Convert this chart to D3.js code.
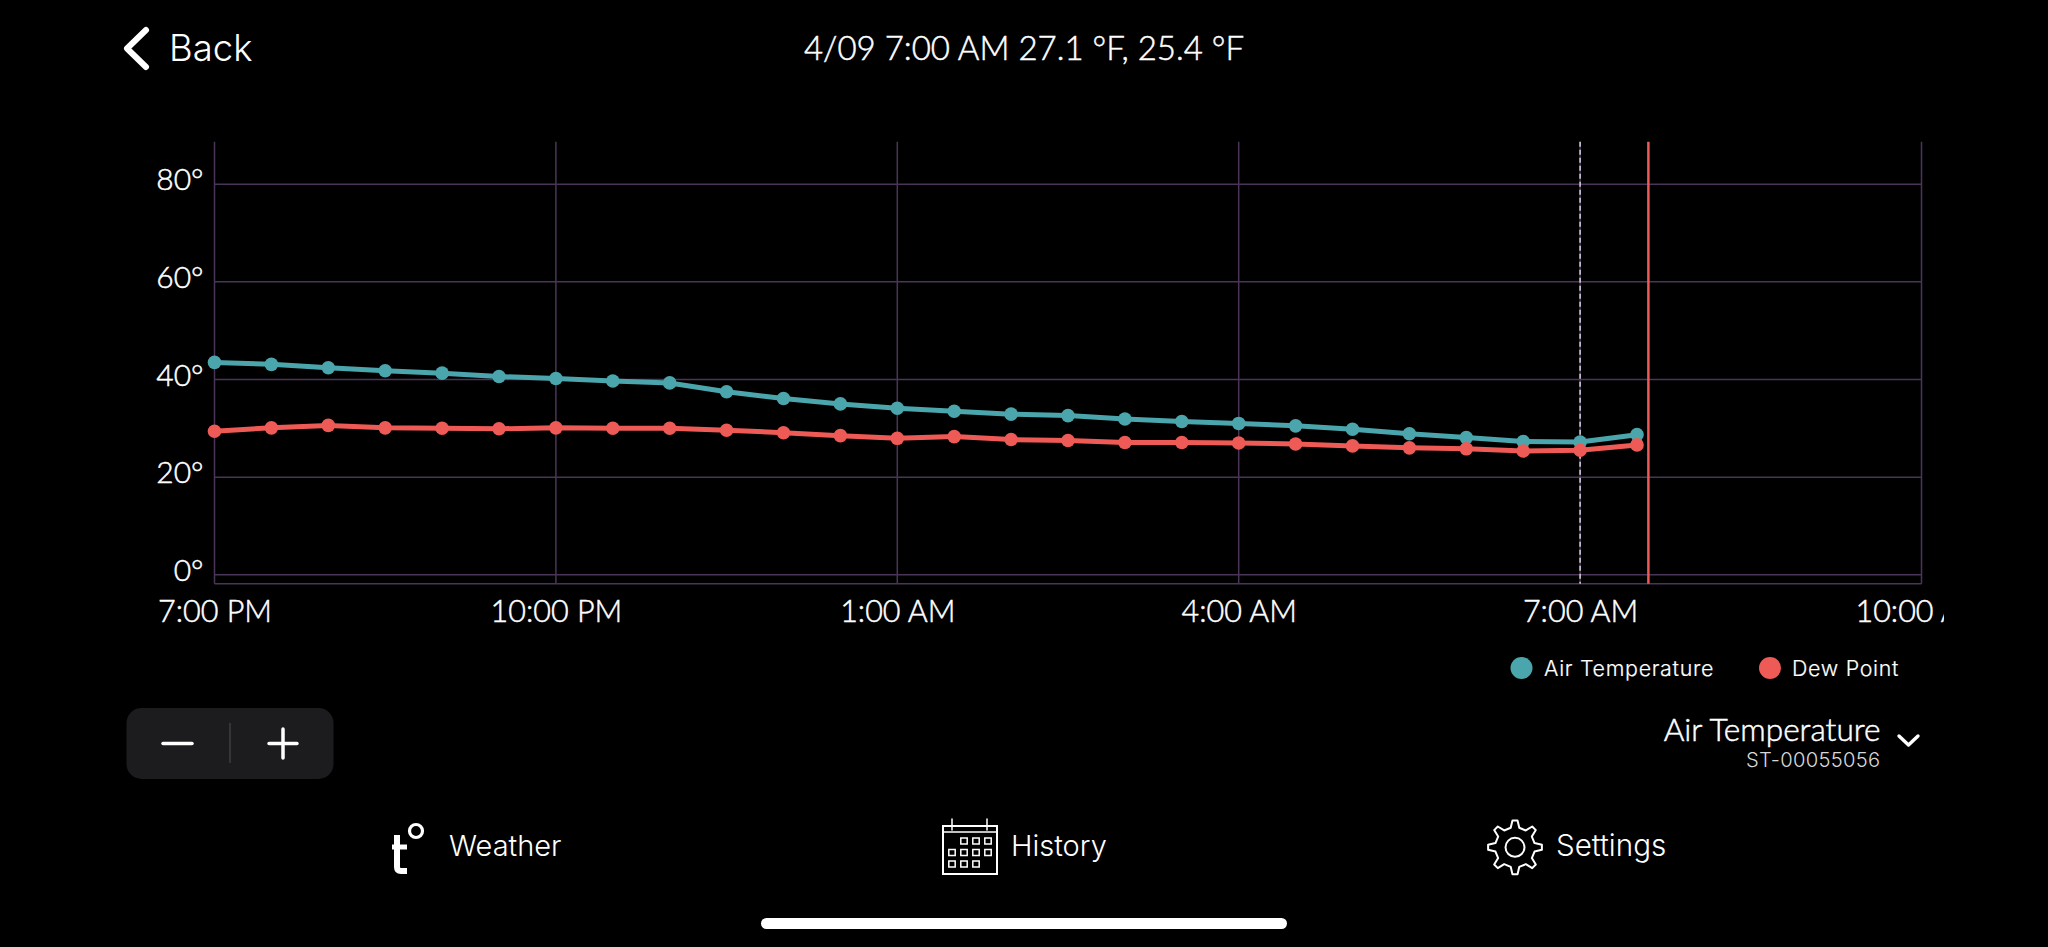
<!DOCTYPE html>
<html><head><meta charset="utf-8">
<script src="https://cdn.jsdelivr.net/npm/d3@7/dist/d3.min.js"></script>
<style>html,body{margin:0;background:#000;overflow:hidden}svg{display:block}</style>
</head><body><svg id="c" width="2048" height="947"></svg>
<script>
const hours = [0,0.5,1,1.5,2,2.5,3,3.5,4,4.5,5,5.5,6,6.5,7,7.5,8,8.5,9,9.5,10,10.5,11,11.5,12,12.5];
const airTemp = [43.4,43.0,42.3,41.7,41.2,40.5,40.1,39.6,39.2,37.4,36.0,34.9,34.0,33.4,32.8,32.5,31.8,31.3,30.9,30.4,29.7,28.8,28.0,27.2,27.1,28.6];
const dewPoint = [29.3,30.0,30.5,30.0,29.9,29.8,30.0,29.9,29.9,29.5,29.0,28.4,27.85,28.2,27.6,27.4,27.0,27.0,26.9,26.7,26.3,25.9,25.7,25.25,25.4,26.5];
const xTickHours = [0,3,6,9,12,15];
const xTickLabels = ["7:00 PM","10:00 PM","1:00 AM","4:00 AM","7:00 AM","10:00 AM"];
const yTicks = [0,20,40,60,80];
const selectedHour = 12;
const nowHour = 12.6;
const seriesNames = ["Air Temperature","Dew Point"];
const title = "4/09 7:00 AM 27.1 °F, 25.4 °F";

const TEAL="#4aa6ac", RED="#ee5a55", GRID="#4a3558", WHITE="#fff";
const svg=d3.select("#c");
const FONT_A="Lato, sans-serif", FONT_B="Inter, sans-serif";
const x=d3.scaleLinear().domain([0,15]).range([214.5,1921.5]);
const y=d3.scaleLinear().domain([0,80]).range([574.3,183.7]);
const yBottom=583.7, yTop=141.7;

svg.append("defs").append("clipPath").attr("id","xclip").append("rect")
  .attr("x",100).attr("y",590).attr("width",1844).attr("height",50);

// horizontal grid + y labels
const gy=svg.append("g").attr("transform",`translate(${x(0)},0)`)
  .call(d3.axisLeft(y).tickValues(yTicks).tickFormat(d=>d+"°").tickSize(-(x(15)-x(0))).tickPadding(11));
gy.select(".domain").remove();
gy.selectAll("line").attr("stroke",GRID).attr("stroke-width",1.5);
gy.selectAll("text").attr("fill",WHITE).attr("font-family",FONT_A).attr("font-weight",300).attr("font-size",30)
  .attr("stroke",WHITE).attr("stroke-width",0.5).attr("dy",null).attr("y",6);

// vertical grid + x labels
const gx=svg.append("g").attr("transform",`translate(0,${yBottom})`);
gx.call(d3.axisBottom(x).tickValues(xTickHours).tickFormat((d,i)=>xTickLabels[i]).tickSize(0).tickPadding(0));
gx.select(".domain").remove();
gx.selectAll("line").remove();
gx.selectAll("text").attr("fill",WHITE).attr("font-family",FONT_A).attr("font-size",30.5).attr("font-weight",300)
  .attr("stroke",WHITE).attr("stroke-width",0.5).attr("dy",null).attr("y",38);
svg.append("g").attr("clip-path","url(#xclip)").node().appendChild(gx.node());

svg.append("g").selectAll("line").data(xTickHours).join("line")
  .attr("x1",d=>x(d)).attr("x2",d=>x(d)).attr("y1",yTop).attr("y2",yBottom)
  .attr("stroke",GRID).attr("stroke-width",1.5);
svg.append("line").attr("x1",x(0)).attr("x2",x(15)).attr("y1",yBottom).attr("y2",yBottom)
  .attr("stroke",GRID).attr("stroke-width",1.5);

// cursor lines
svg.append("line").attr("x1",x(selectedHour)).attr("x2",x(selectedHour)).attr("y1",yTop).attr("y2",yBottom)
  .attr("stroke","#d8d2e0").attr("stroke-width",1.5).attr("stroke-dasharray","5,3");
svg.append("line").attr("x1",x(nowHour)).attr("x2",x(nowHour)).attr("y1",yTop).attr("y2",yBottom)
  .attr("stroke",RED).attr("stroke-width",2.5);

// series
const line=d3.line().x((d,i)=>x(hours[i])).y(d=>y(d));
[[airTemp,TEAL],[dewPoint,RED]].forEach(([vals,col])=>{
  svg.append("path").attr("d",line(vals)).attr("fill","none").attr("stroke",col).attr("stroke-width",5);
  svg.append("g").selectAll("circle").data(vals).join("circle")
    .attr("cx",(d,i)=>x(hours[i])).attr("cy",d=>y(d)).attr("r",6.8).attr("fill",col);
});

function txt(s,px,py,size,opt={}){
  return svg.append("text").text(s).attr("x",px).attr("y",py).attr("font-size",size)
    .attr("font-family",opt.font||FONT_B).attr("font-weight",opt.weight||400)
    .attr("fill",opt.fill||WHITE).attr("text-anchor",opt.anchor||"start")
    .attr("letter-spacing",opt.ls||null)
    .attr("stroke",opt.sw?(opt.fill||WHITE):null).attr("stroke-width",opt.sw||null);
}
function stroke(d,w,col=WHITE,cap="round"){
  return svg.append("path").attr("d",d).attr("fill","none").attr("stroke",col).attr("stroke-width",w)
    .attr("stroke-linecap",cap).attr("stroke-linejoin","round");
}

// header
stroke("M146,30L127,48.5L146,67",6);
txt("Back",169,61,36.5,{weight:300});
txt(title,1024,60,33,{font:FONT_A,anchor:"middle",weight:300,sw:0.5});

// legend
const legendX=[1521.5,1770], legendTx=[1544,1792];
seriesNames.forEach((n,i)=>{
  svg.append("circle").attr("cx",legendX[i]).attr("cy",668).attr("r",11).attr("fill",[TEAL,RED][i]);
  txt(n,legendTx[i],676,21.4,{ls:"0.7px",weight:300,sw:0.2});
});

// selector
txt("Air Temperature",1880.5,741,31.6,{font:FONT_A,anchor:"end",weight:300,sw:0.5});
txt("ST-00055056",1880.5,767,20.2,{anchor:"end",fill:"#d8d8d8",weight:300,ls:"0.3px"});
stroke("M1899,736L1908.5,745L1918,736",3.4);

// zoom buttons
svg.append("rect").attr("x",126.5).attr("y",708).attr("width",207).attr("height",71).attr("rx",15).attr("fill","#1c1c1e");
svg.append("line").attr("x1",230).attr("x2",230).attr("y1",723).attr("y2",763).attr("stroke","#3e3e40").attr("stroke-width",1.5);
stroke("M163,743.5H192",3.5);
stroke("M269,743.5H297M283,729V758",3.5);

// Weather tab
stroke("M397,835V867Q397,871 401,871H407",6,WHITE,"butt");
stroke("M392,847H407",5,WHITE,"butt");
svg.append("circle").attr("cx",416).attr("cy",831).attr("r",6.5).attr("fill","none").attr("stroke",WHITE).attr("stroke-width",3.2);
txt("Weather",449,856,29,{weight:300});

// History tab
svg.append("rect").attr("x",943).attr("y",826).attr("width",54).attr("height",48).attr("fill","none").attr("stroke",WHITE).attr("stroke-width",2);
stroke("M943,832H997",1.5);
stroke("M952,819V830M987,819V830",1.5);
const cells=[[964,841],[976,841],[988,841],[952,852.5],[964,852.5],[976,852.5],[988,852.5],[952,864],[964,864],[976,864]];
svg.append("g").selectAll("rect").data(cells).join("rect")
  .attr("x",d=>d[0]-3.2).attr("y",d=>d[1]-3).attr("width",6.4).attr("height",6)
  .attr("fill","none").attr("stroke",WHITE).attr("stroke-width",1.5);
txt("History",1011,856,29,{weight:300});

// Settings tab
const gearCx=1515,gearCy=847.3,n=8,ro=27,ri=20;
let pts=[];
for(let k=0;k<n;k++){
  const a=-Math.PI/2+k*2*Math.PI/n, w=Math.PI/n;
  pts.push([a-w*0.55,ri],[a-w*0.24,ro],[a+w*0.24,ro],[a+w*0.55,ri]);
}
const gearPath=d3.lineRadial().angle(d=>d[0]+Math.PI/2).radius(d=>d[1]).curve(d3.curveLinearClosed)(pts);
svg.append("path").attr("d",gearPath).attr("transform",`translate(${gearCx},${gearCy})`)
  .attr("fill","none").attr("stroke",WHITE).attr("stroke-width",2).attr("stroke-linejoin","round");
svg.append("circle").attr("cx",gearCx).attr("cy",gearCy).attr("r",9.5).attr("fill","none").attr("stroke",WHITE).attr("stroke-width",2);
txt("Settings",1556,856,29.6,{weight:300});

// home indicator
svg.append("rect").attr("x",761).attr("y",918).attr("width",526).attr("height",11).attr("rx",5.5).attr("fill",WHITE);
</script></body></html>
